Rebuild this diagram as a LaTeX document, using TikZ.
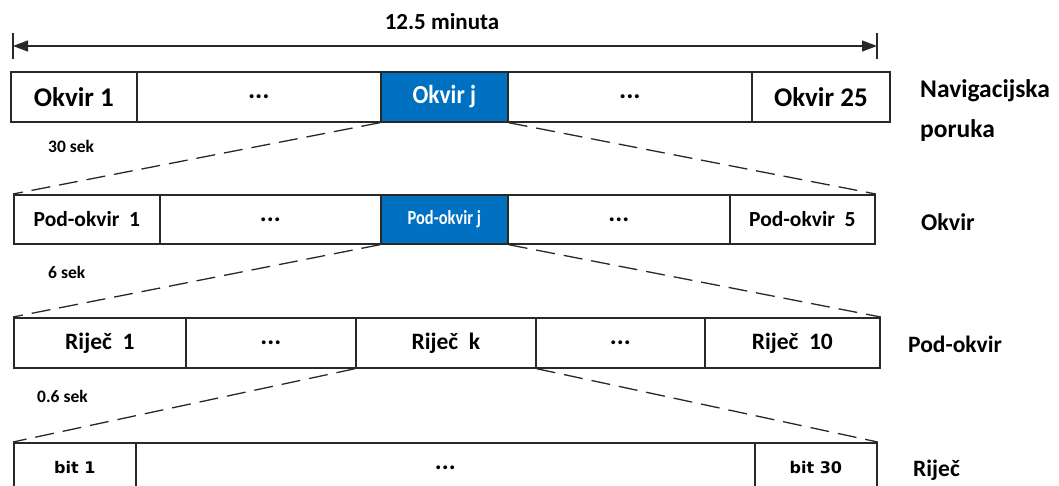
\documentclass[tikz,border=0pt]{standalone}
\usepackage{fontspec}
\setmainfont{Carlito}
\newfontfamily\bitfont{DejaVu Sans}
\usetikzlibrary{arrows.meta}
\definecolor{nblue}{RGB}{0,112,192}
\definecolor{lc}{RGB}{40,40,40}
\tikzset{
  cell/.style={draw=lc, line width=1.7pt, rectangle, anchor=north west, inner sep=0pt, font=\bfseries},
  bluecell/.style={cell, fill=nblue, text=white},
  zoomline/.style={draw=lc, line width=1.3pt, dash pattern=on 19pt off 9pt},
  lbl/.style={anchor=base west, inner sep=0pt, font=\bfseries},
  tick/.style={draw=lc, line width=1.3pt},
}
\newcommand{\fs}[1]{\fontsize{#1}{#1}\selectfont}
\begin{document}
\begin{tikzpicture}[x=1pt,y=-1pt]
\useasboundingbox (0,0) rectangle (1059,486);
\clip (0,0) rectangle (1059,486);
% dimension arrow
\coordinate (tl) at (13,46);
\coordinate (tr) at (877,46);
\draw[tick] (13,33) -- (13,59);
\draw[tick] (877,33) -- (877,59);
\draw[lc, line width=1.3pt, {Triangle[length=15pt,width=11pt]}-{Triangle[length=15pt,width=11pt]}] (tl) -- (tr);
\node[anchor=base, inner sep=0pt, font=\bfseries\fs{23}] (t) at (442,30) {12.5 minuta};
% row 1
\node[cell, minimum width=126pt, minimum height=50pt, font=\bfseries\fs{27}] (r1a) at (10,71) {Okvir 1};
\node[cell, minimum width=244pt, minimum height=50pt, font=\bfseries\fs{27}] (r1b) at (136,71) {...};
\node[bluecell, minimum width=127pt, minimum height=50pt, font=\bfseries\fs{26}] (r1c) at (380,71) {\scalebox{0.9}[1]{Okvir j}};
\node[cell, minimum width=244pt, minimum height=50pt, font=\bfseries\fs{27}] (r1d) at (507,71) {...};
\node[cell, minimum width=138pt, minimum height=50pt, font=\bfseries\fs{27}] (r1e) at (751,71) {Okvir 25};
\node[lbl, font=\bfseries\fs{25.5}] (l1) at (920,98) {Navigacijska};
\node[lbl, font=\bfseries\fs{25.5}] (l1b) at (920,138) {poruka};
\node[lbl, font=\bfseries\fs{17.5}] (s1) at (48,153) {30 sek};
% row 2
\node[cell, minimum width=146pt, minimum height=49pt, font=\bfseries\fs{21.5}] (r2a) at (13,194) {Pod-okvir\ \ 1};
\node[cell, minimum width=221pt, minimum height=49pt, font=\bfseries\fs{26}] (r2b) at (159,194) {...};
\node[bluecell, minimum width=127pt, minimum height=49pt, font=\bfseries\fs{20}] (r2c) at (380,194) {\scalebox{0.82}[1]{Pod-okvir j}};
\node[cell, minimum width=222pt, minimum height=49pt, font=\bfseries\fs{26}] (r2d) at (507,194) {...};
\node[cell, minimum width=145pt, minimum height=49pt, font=\bfseries\fs{21.5}] (r2e) at (729,194) {Pod-okvir\ \ 5};
\node[lbl, font=\bfseries\fs{24}] (l2) at (921,231) {Okvir};
\node[lbl, font=\bfseries\fs{17.5}] (s2) at (48,278) {6 sek};
% row 3
\node[cell, minimum width=172pt, minimum height=50pt, font=\bfseries\fs{23.5}] (r3a) at (13,317) {Riječ\ \ 1};
\node[cell, minimum width=170pt, minimum height=50pt, font=\bfseries\fs{26}] (r3b) at (185,317) {...};
\node[cell, minimum width=180pt, minimum height=50pt, font=\bfseries\fs{23.5}] (r3c) at (355,317) {Riječ\ \ k};
\node[cell, minimum width=169pt, minimum height=50pt, font=\bfseries\fs{26}] (r3d) at (535,317) {...};
\node[cell, minimum width=175pt, minimum height=50pt, font=\bfseries\fs{23.5}] (r3e) at (704,317) {Riječ\ \ 10};
\node[lbl, font=\bfseries\fs{23.5}] (l3) at (908,352) {Pod-okvir};
\node[lbl, font=\bfseries\fs{17.5}] (s3) at (37,402) {0.6 sek};
% row 4
\node[cell, minimum width=122pt, minimum height=50pt, font=\bitfont\bfseries\fs{16}] (r4a) at (13,442) {bit 1};
\node[cell, minimum width=619pt, minimum height=50pt, font=\bfseries\fs{26}] (r4b) at (135,442) {...};
\node[cell, minimum width=122pt, minimum height=50pt, font=\bitfont\bfseries\fs{16}] (r4c) at (754,442) {bit 30};
\node[lbl, font=\bfseries\fs{23.5}] (l4) at (913,476) {Riječ};
% zoom lines
\draw[zoomline] (r1c.south west) -- (r2a.north west);
\draw[zoomline] (r1c.south east) -- (r2e.north east);
\draw[zoomline] (r2c.south west) -- (r3a.north west);
\draw[zoomline] (r2c.south east) -- (r3e.north east);
\draw[zoomline] (r3c.south west) -- (r4a.north west);
\draw[zoomline] (r3c.south east) -- (r4c.north east);
\end{tikzpicture}
\end{document}
